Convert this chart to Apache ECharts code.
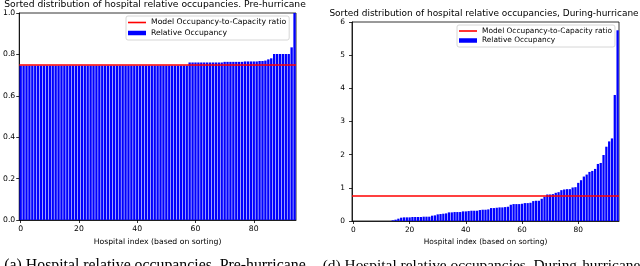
<!DOCTYPE html>
<html>
<head>
<meta charset="utf-8">
<script src="https://cdn.jsdelivr.net/npm/echarts@6/dist/echarts.min.js"></script>
<style>
html,body{margin:0;padding:0;background:#fff;}
#c{width:640px;height:266px;}
</style>
</head>
<body>
<div id="c"></div>
<script>
// ---- data ----
const preOccupancy = [
  0.746,0.746,0.746,0.746,0.746,0.746,0.746,0.746,0.746,0.746,
  0.746,0.746,0.746,0.746,0.746,0.746,0.746,0.746,0.746,0.746,
  0.746,0.746,0.746,0.746,0.746,0.746,0.746,0.746,0.746,0.746,
  0.746,0.746,0.746,0.746,0.746,0.746,0.746,0.746,0.746,0.746,
  0.746,0.746,0.746,0.746,0.746,0.746,0.746,0.746,0.746,0.746,
  0.746,0.746,0.746,0.746,0.746,0.746,0.746,0.746,
  0.761,0.761,0.761,0.761,0.761,0.761,0.761,0.761,0.761,0.761,0.761,0.761,
  0.764,0.764,0.764,0.764,0.764,0.764,0.764,
  0.766,0.766,0.766,0.766,0.766,
  0.768,0.768,
  0.770,0.776,0.781,
  0.802,0.802,0.802,0.802,0.802,0.802,
  0.834,1.0
];
const duringOccupancy = [
  0,0,0,0,0,0,0,0,0,0,0,0,0,0,
  0.02,0.04,0.07,0.10,
  0.11,0.11,0.11,
  0.12,0.12,0.12,0.12,0.13,0.13,0.13,
  0.16,0.17,
  0.20,0.21,
  0.22,0.23,
  0.26,0.26,0.27,0.27,0.27,
  0.29,0.29,0.30,
  0.31,0.31,0.31,
  0.33,0.34,0.34,0.35,
  0.39,0.39,0.40,
  0.41,0.41,0.42,
  0.43,0.49,
  0.51,0.51,0.51,0.52,
  0.54,0.54,0.55,
  0.60,0.61,0.61,
  0.67,0.73,
  0.80,0.80,0.81,
  0.85,0.87,
  0.93,0.95,0.96,0.96,
  1.01,1.02,
  1.15,1.23,1.34,1.40,1.48,1.51,1.57,
  1.72,1.75,1.99,2.24,2.40,2.49,
  3.8,5.75
];
const preRatio = 0.75;
const duringRatio = 0.75;
const hospitalIndex = preOccupancy.map((_, i) => String(i));
const xTickLabels = ['0','20','40','60','80'];
const preYTicks = ['0.0','0.2','0.4','0.6','0.8','1.0'];
const duringYTicks = ['0','1','2','3','4','5','6'];
const lineName = 'Model Occupancy-to-Capacity ratio';
const barName = 'Relative Occupancy';
const preTitle = 'Sorted distribution of hospital relative occupancies. Pre-hurricane';
const duringTitle = 'Sorted distribution of hospital relative occupancies, During-hurricane';
const preCaption = '(a) Hospital relative occupancies, Pre-hurricane';
const duringCaption = '(d) Hospital relative occupancies, During-hurricane';
const xName = 'Hospital index (based on sorting)';

// ---- chart ----
const F = 'DejaVu Sans';
const chart = echarts.init(document.getElementById('c'), null, {renderer: 'canvas'});

function xAxisFor(g, fs) {
  return {
    type: 'category', gridIndex: g, data: hospitalIndex, boundaryGap: true,
    name: xName, nameLocation: 'middle', nameGap: 16,
    nameTextStyle: {fontFamily: F, fontSize: fs, color: '#000'},
    axisLine: {show: true, lineStyle: {color: '#000', width: 0.8}},
    axisTick: {show: true, alignWithLabel: true, length: 3, lineStyle: {color: '#000', width: 0.8},
      interval: (i) => xTickLabels.indexOf(hospitalIndex[i]) >= 0},
    axisLabel: {show: true, margin: 5.5, fontFamily: F, fontSize: fs, color: '#000',
      interval: (i) => xTickLabels.indexOf(hospitalIndex[i]) >= 0},
    splitLine: {show: false}
  };
}
function yAxisFor(g, max, interval, labels, margin, fs) {
  return {
    type: 'value', gridIndex: g, min: 0, max: max, interval: interval,
    axisLine: {show: true, lineStyle: {color: '#000', width: 0.8}},
    axisTick: {show: true, length: 3, lineStyle: {color: '#000', width: 0.8}},
    axisLabel: {show: true, margin: margin, fontFamily: F, fontSize: fs, color: '#000',
      formatter: (v) => labels[Math.round(v / interval)]},
    splitLine: {show: false}
  };
}
function legendFor(left, top, fs, itemGap) {
  return {
    left: left, top: top, orient: 'vertical',
    backgroundColor: 'rgba(255,255,255,0.85)', borderColor: '#cccccc', borderWidth: 0.8, borderRadius: 2,
    padding: [2.5, 3, 3, 2], itemGap: itemGap, itemWidth: 18, itemHeight: 4.5,
    textStyle: {fontFamily: F, fontSize: fs, color: '#000'},
    data: [{name: lineName, icon: 'path://M0,0H18V1.6H0Z'}, {name: barName, icon: 'rect'}],
    selectedMode: false
  };
}
function barSeries(g, data) {
  return {
    type: 'bar', name: barName, xAxisIndex: g, yAxisIndex: g, data: data,
    barCategoryGap: '20%', itemStyle: {color: '#0000ff'}, silent: true, animation: false
  };
}
function ratioSeries(g, value) {
  return {
    type: 'line', name: lineName, xAxisIndex: g, yAxisIndex: g, data: [],
    symbol: 'none', lineStyle: {color: '#ff0000', width: 1.6}, itemStyle: {color: '#ff0000'},
    animation: false, z: 5,
    markLine: {silent: true, symbol: ['none', 'none'], label: {show: false}, animation: false,
      lineStyle: {color: '#ff0000', width: 1.6, type: 'solid'}, emphasis: {disabled: true},
      data: [{yAxis: value}]}
  };
}
function txt(x, y, s, font, align) {
  return {type: 'text', x: x, y: y, silent: true,
    style: {text: s, font: font, fill: '#000', align: align || 'center', verticalAlign: 'middle'}};
}

chart.setOption({
  animation: false,
  backgroundColor: '#fff',
  grid: [
    {left: 17, top: 13, width: 279, height: 207, show: true, borderColor: '#000', borderWidth: 0.8, backgroundColor: 'transparent'},
    {left: 352, top: 22, width: 267, height: 199, show: true, borderColor: '#000', borderWidth: 0.8, backgroundColor: 'transparent'}
  ],
  xAxis: [xAxisFor(0, 7.7), xAxisFor(1, 7.45)],
  yAxis: [yAxisFor(0, 1, 0.2, preYTicks, 4, 7.7), yAxisFor(1, 6, 1, duringYTicks, 7, 7.45)],
  legend: [legendFor(126, 16, 7.7, 2.5), legendFor(457, 25, 7.4, 2.5)],
  series: [
    barSeries(0, preOccupancy), ratioSeries(0, preRatio),
    barSeries(1, duringOccupancy), ratioSeries(1, duringRatio)
  ],
  graphic: [
    txt(155, 5, preTitle, '9.2px "DejaVu Sans"'),
    txt(484, 14, duringTitle, '8.95px "DejaVu Sans"'),
    txt(155, 266, preCaption, '15.8px "Liberation Serif"'),
    txt(481.5, 266, duringCaption, '15.4px "Liberation Serif"')
  ]
});
</script>
</body>
</html>
